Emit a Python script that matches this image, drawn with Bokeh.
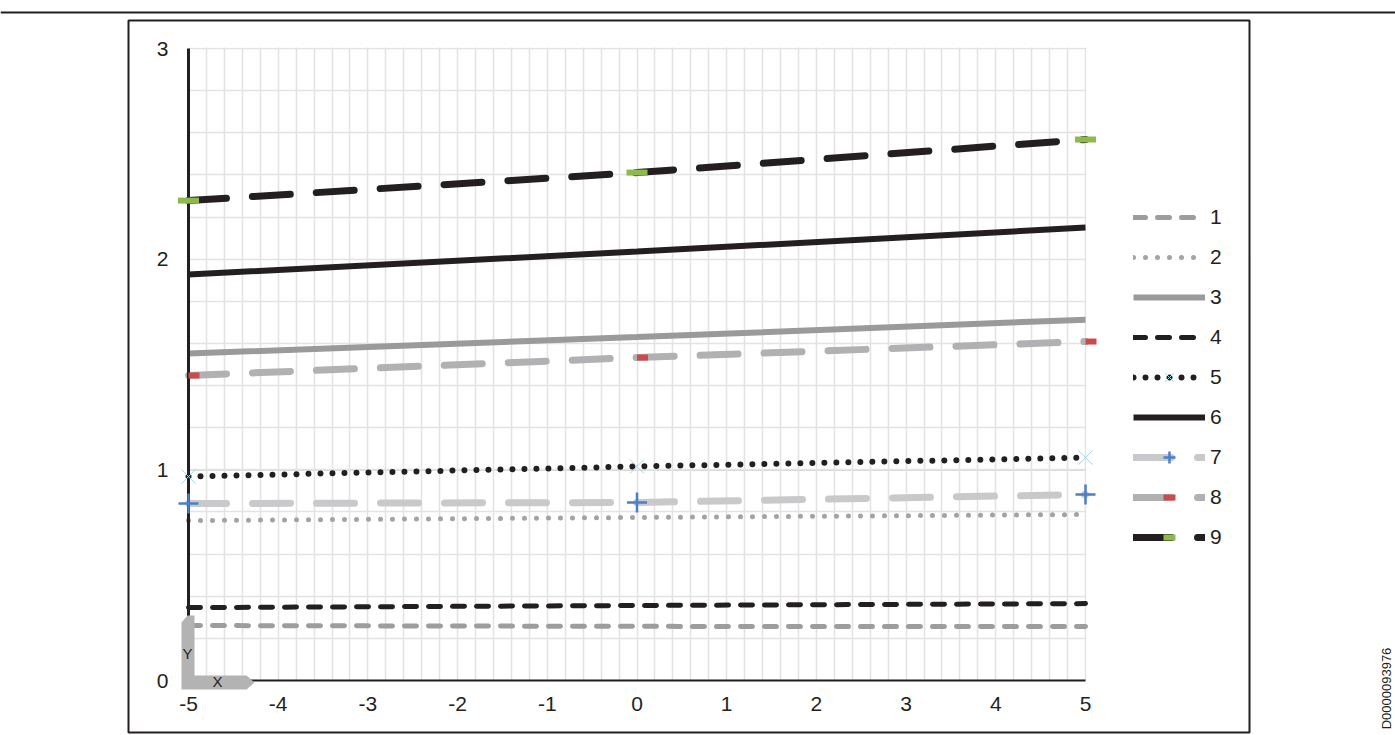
from bokeh.plotting import figure
from bokeh.models import (Range1d, FixedTicker, Legend, LegendItem, BoxAnnotation, Label)
from bokeh.embed import file_html
from bokeh.resources import INLINE
from bokeh.core.properties import value

# ---------------- data ----------------
x_vals = [-5, 0, 5]
s1 = [0.261, 0.257, 0.256]
s2 = [0.759, 0.774, 0.788]
s3 = [1.552, 1.630, 1.713]
s4 = [0.346, 0.356, 0.365]
s5 = [0.968, 1.016, 1.058]
s6 = [1.927, 2.036, 2.150]
s7 = [0.840, 0.845, 0.883]
s8 = [1.448, 1.533, 1.609]
s9 = [2.278, 2.411, 2.568]
labels = ["1", "2", "3", "4", "5", "6", "7", "8", "9"]
x_ticks = [-5, -4, -3, -2, -1, 0, 1, 2, 3, 4, 5]
y_ticks = [0, 1, 2, 3]
doc_id = "D0000093976"

INK = "#231f20"
FONT = "Liberation Sans"

W, H = 1395, 735
# pixel anchors of the plotting area inside the canvas
X0_PX, X1_PX = 188, 1085      # x = -5 .. 5
Y0_PX, Y1_PX = 680, 48        # y = 0 .. 3
PX_X = (X1_PX - X0_PX) / 10.0
PX_Y = (Y0_PX - Y1_PX) / 3.0

x_start = -5 - X0_PX / PX_X
x_end = 5 + (W - X1_PX) / PX_X
y_start = -(H - Y0_PX) / PX_Y
y_end = 3 + Y1_PX / PX_Y

p = figure(width=W, height=H, output_backend="svg", toolbar_location=None,
           x_range=Range1d(x_start, x_end), y_range=Range1d(y_start, y_end),
           min_border=0)
p.title.visible = False
p.outline_line_color = None
p.background_fill_color = "white"
p.border_fill_color = "white"

# grid (0.2 steps)
p.xgrid.ticker = FixedTicker(ticks=[round(-5 + 0.2 * i, 2) for i in range(51)])
p.ygrid.ticker = FixedTicker(ticks=[round(0.2 * i, 2) for i in range(16)])
p.xgrid.grid_line_color = "#e3e3e3"
p.ygrid.grid_line_color = "#e3e3e3"
p.xgrid.grid_line_width = 1.6
p.ygrid.grid_line_width = 1.6
# white masks that confine the grid to the plotting area
for kw in (dict(right=-5), dict(left=5 + 1.0 / PX_X), dict(bottom=3 + 1.0 / PX_Y), dict(top=0)):
    p.add_layout(BoxAnnotation(fill_color="white", fill_alpha=1, line_color=None,
                               level="underlay", **kw))
# slightly stronger gridline at y = 1
p.segment(x0=[x_ticks[0]], y0=[y_ticks[1]], x1=[x_ticks[-1]], y1=[y_ticks[1]],
          line_color="#cdcdcd", line_width=1.6, level="underlay")

# axes at the origin
p.xaxis.fixed_location = 0
p.yaxis.fixed_location = -5
p.xaxis.ticker = FixedTicker(ticks=x_ticks)
p.yaxis.ticker = FixedTicker(ticks=y_ticks)
p.xaxis.major_label_overrides = {t: str(t) for t in x_ticks}
for ax in (p.xaxis, p.yaxis):
    ax.major_tick_line_color = None
    ax.minor_tick_line_color = None
    ax.major_label_text_font = FONT
    ax.major_label_text_font_size = "21px"
    ax.major_label_text_color = INK
    ax.axis_line_color = INK
p.xaxis.bounds = (-5, 5)
p.yaxis.bounds = (0, 3)
p.xaxis.axis_line_width = 2
p.yaxis.axis_line_width = 3
p.xaxis.major_label_standoff = 10
p.yaxis.major_label_standoff = 14

# series
r1 = p.line(x_vals, s1, line_color="#9d9d9f", line_width=5, line_dash="12 12", line_cap="round")
r2 = p.line(x_vals, s2, line_color="#a3a3a5", line_width=5, line_dash="0 12", line_cap="round")
r3 = p.line(x_vals, s3, line_color="#9a9a9c", line_width=6)
r4 = p.line(x_vals, s4, line_color=INK, line_width=5, line_dash="12 12", line_cap="round")
r5 = p.line(x_vals, s5, line_color=INK, line_width=6, line_dash="0 12", line_cap="round")
r6 = p.line(x_vals, s6, line_color=INK, line_width=6)
r7 = p.line(x_vals, s7, line_color="#c9c9cb", line_width=7, line_dash="38 26", line_cap="round")
r8 = p.line(x_vals, s8, line_color="#b1b1b3", line_width=7, line_dash="38 26", line_cap="round")
r9 = p.line(x_vals, s9, line_color=INK, line_width=7, line_dash="38 26", line_cap="round")

m5 = p.scatter(x_vals, s5, marker="x", size=20, line_color="#a8d5e2", line_width=1, level="overlay")
m7 = p.scatter(x_vals, s7, marker="cross", size=20, line_color="#4b7fc6", line_width=2.5, level="overlay")
m8 = p.scatter([v + 5.5 / PX_X for v in x_vals], s8, marker="dash", size=11,
               line_color="#cd4a4a", line_width=6, level="overlay")
m9 = p.scatter(x_vals, s9, marker="dash", size=21, line_color="#8cbb4c", line_width=6, level="overlay")

# decorative X/Y icon at the origin (pixel offsets from the origin)
icon_px = [(-7, 58), (-1, 65), (6, 65), (6, 5), (58, 5), (66, -2), (58, -9), (-7, -9)]
p.patch([-5 + dx / PX_X for dx, dy in icon_px], [dy / PX_Y for dx, dy in icon_px],
        fill_color="#b3b3b3", line_color=None, level="overlay")
p.text(x=[-5 - 1 / PX_X, -5 + 29 / PX_X], y=[27 / PX_Y, -1 / PX_Y], text=["Y", "X"],
       text_font=value(FONT), text_font_size="15px", text_color=INK,
       text_align="center", text_baseline="middle", level="overlay")

# legend
rs = [[r1], [r2], [r3], [r4], [r5, m5], [r6], [r7, m7], [r8, m8], [r9, m9]]
items = [LegendItem(label=lab, renderers=r) for lab, r in zip(labels, rs)]
legend = Legend(items=items, location=(1133, 183), orientation="vertical",
                glyph_width=72, glyph_height=30, label_height=30, label_standoff=5,
                spacing=10, padding=0, margin=0, border_line_color=None,
                background_fill_alpha=0, label_text_font=FONT,
                label_text_font_size="21px", label_text_color=INK)
p.add_layout(legend)

# frame decorations
p.add_layout(BoxAnnotation(left=0, right=W, top=11, bottom=13,
                           left_units="canvas", right_units="canvas",
                           top_units="canvas", bottom_units="canvas",
                           fill_color=INK, fill_alpha=1, line_color=None))
p.add_layout(BoxAnnotation(left=128, right=1249, top=20, bottom=732,
                           left_units="canvas", right_units="canvas",
                           top_units="canvas", bottom_units="canvas",
                           fill_alpha=0, line_color=INK, line_alpha=1, line_width=2))
p.add_layout(Label(x=1386, y=688, x_units="canvas", y_units="canvas", text=doc_id,
                   angle=90, angle_units="deg", text_font=FONT, text_font_size="13px",
                   text_color=INK, text_align="center", text_baseline="middle"))

open("out.html", "w").write(file_html(p, INLINE))
